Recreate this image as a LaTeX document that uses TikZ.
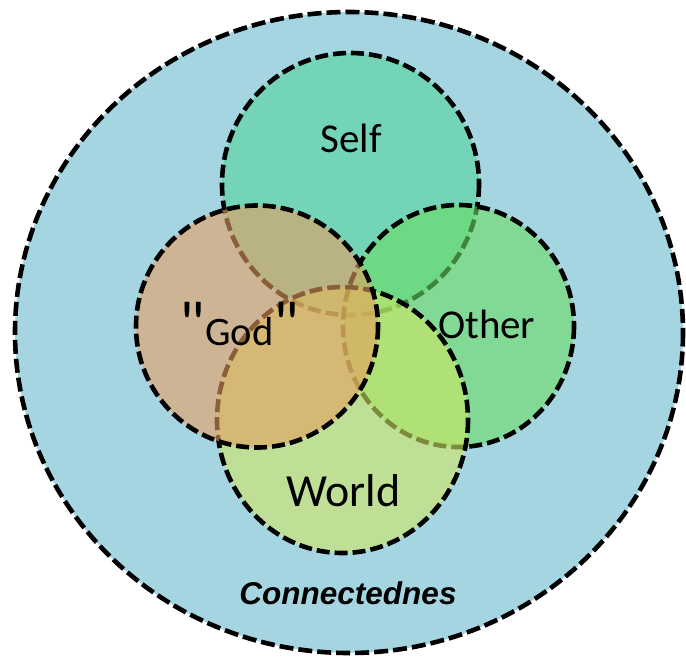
\documentclass[tikz,border=0pt]{standalone}
\usepackage{fontspec}
\setmainfont{Carlito}
\newfontfamily\qfont[Ligatures=TeXOff]{Carlito}
\newfontfamily\arialf{Liberation Sans}
\definecolor{bgblue}{RGB}{166,213,226}
\definecolor{selfc}{RGB}{116,212,184}
\definecolor{godc}{RGB}{231,158,96}
\definecolor{otherc}{RGB}{106,221,99}
\definecolor{worldc}{RGB}{206,231,99}
\begin{document}
\begin{tikzpicture}[x=1pt,y=-1pt,
  ring/.style={draw=black, line width=4.6pt, dash pattern=on 13pt off 5pt},
  lbl/.style={anchor=base, inner sep=0pt, text=black}]
\useasboundingbox (0,0) rectangle (686,659);
\draw[ring, fill=bgblue, dash pattern=on 14pt off 5pt] (349,332.5) ellipse [x radius=334, y radius=320.5];
\draw[ring, fill=selfc] (350.5,184) ellipse [x radius=128.5, y radius=131];
\draw[ring, fill=otherc, fill opacity=0.6] (458.5,326) ellipse [x radius=115.5, y radius=121];
\draw[ring, fill=worldc, fill opacity=0.6] (342.5,420) ellipse [x radius=125.5, y radius=133];
\draw[ring, fill=godc, fill opacity=0.6] (257,326.5) ellipse [x radius=121, y radius=121];
\node[lbl, font=\fontsize{41}{41}\selectfont] (self) at (351,152) {Self};
\node[lbl, font=\fontsize{41}{41}\selectfont] (other) at (486.7,338) {Other};
\node[lbl, font=\fontsize{46}{46}\selectfont] (world) at (343.5,506) {World};
\node[lbl, font=\fontsize{40.5}{40.5}\selectfont] (god) at (239.5,345) {{\qfont\fontsize{64}{64}\selectfont"}God{\qfont\fontsize{64}{64}\selectfont"}};
\node[lbl, font=\arialf\bfseries\itshape\fontsize{31.5}{31.5}\selectfont] (conn) at (348,604) {Connectednes};
\end{tikzpicture}
\end{document}
